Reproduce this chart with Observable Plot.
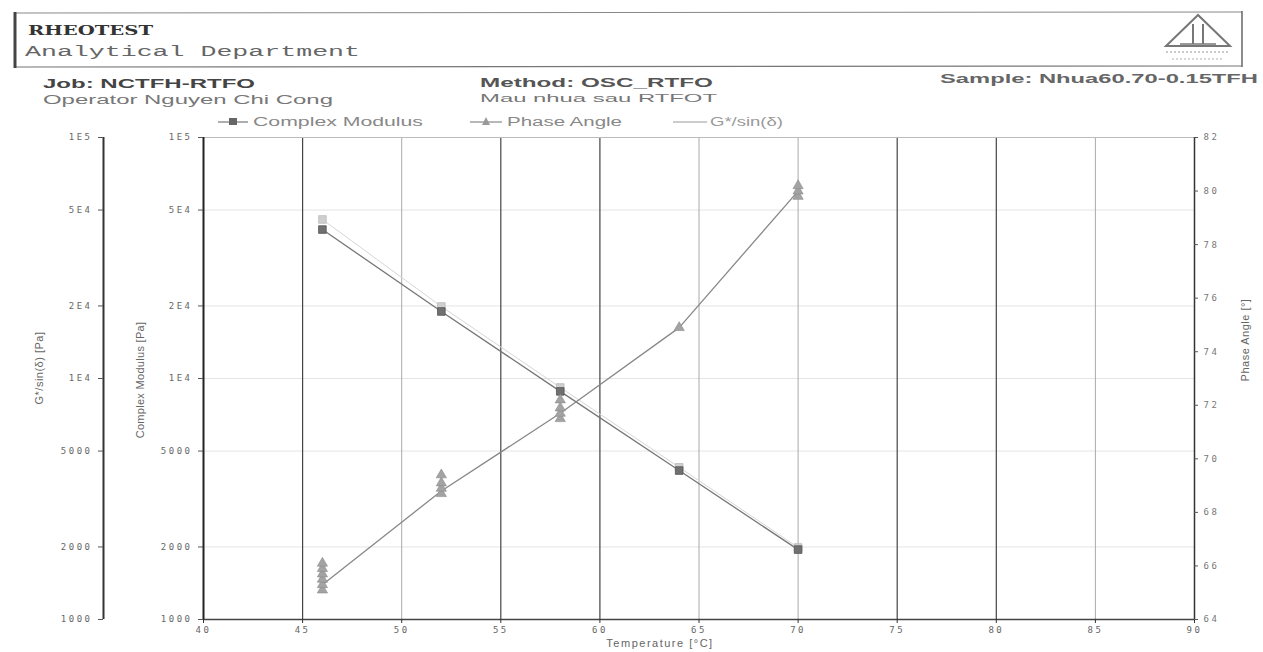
<!DOCTYPE html>
<html><head><meta charset="utf-8">
<script src="https://cdn.jsdelivr.net/npm/d3@7"></script>
<script src="https://cdn.jsdelivr.net/npm/@observablehq/plot@0.6"></script>
<style>
html,body{margin:0;padding:0;background:#fff;overflow:hidden;width:1263px;height:652px;}
#wrap{position:relative;width:1263px;height:652px;font-family:"Liberation Sans",Arial,sans-serif;}
#wrap svg{display:block;}
.ttl{position:absolute;white-space:nowrap;color:#666;font-size:11px;transform:translate(-50%,-50%);line-height:1;}
.rot{transform:translate(-50%,-50%) rotate(-90deg);}
.chart text{letter-spacing:2.5px;}
</style></head><body><div id="wrap"></div>
<script>
// ---- data ----
const temperatures = [46, 52, 58, 64, 70];
const complexModulus = [41500, 18970, 8840, 4150, 1950];
const gStarSinDelta = [45700, 19900, 9180, 4280, 1990];
const phaseAngle = [65.3, 68.8, 71.7, 74.9, 80.0];
const phaseReplicates = [
  [65.1, 65.3, 65.5, 65.7, 65.9, 66.1],
  [68.7, 68.9, 69.1, 69.4],
  [71.5, 71.7, 71.9, 72.2],
  [74.9],
  [79.8, 80.0, 80.2]
];
const xTicks = [40, 45, 50, 55, 60, 65, 70, 75, 80, 85, 90];
const modulusTicks = [1000, 2000, 5000, 10000, 20000, 50000, 100000];
const modulusTickLabels = ["1000", "2000", "5000", "1E4", "2E4", "5E4", "1E5"];
const phaseTicks = [64, 66, 68, 70, 72, 74, 76, 78, 80, 82];
const modulusDomain = [1000, 100000];
const phaseDomain = [64, 82];
const tempDomain = [40, 90];

// map phase angle (right axis, linear) onto the shared log y scale
const l0 = Math.log10(modulusDomain[0]), l1 = Math.log10(modulusDomain[1]);
const toMod = p => Math.pow(10, l0 + (p - phaseDomain[0]) / (phaseDomain[1] - phaseDomain[0]) * (l1 - l0));

const rows = temperatures.map((t, i) => ({t, cm: complexModulus[i], gs: gStarSinDelta[i], pa: toMod(phaseAngle[i])}));
const reps = temperatures.flatMap((t, i) => phaseReplicates[i].map(p => ({t, pa: toMod(p)})));
const phaseTickRows = phaseTicks.map(p => ({y: toMod(p), label: String(p)}));
const modLabel = d => modulusTickLabels[modulusTicks.indexOf(d)];

const wrap = document.getElementById("wrap");

// ---- header (title block + legend) ----
const NS = "http://www.w3.org/2000/svg";
const head = document.createElementNS(NS, "svg");
head.setAttribute("width", 1263); head.setAttribute("height", 110);
const LA = 'lengthAdjust="spacingAndGlyphs"';
head.innerHTML = `
 <line x1="15" y1="13" x2="1242" y2="12" stroke="#888" stroke-width="1"/>
 <line x1="15" y1="67" x2="1242" y2="66" stroke="#777" stroke-width="1.2"/>
 <line x1="15" y1="12" x2="15" y2="68" stroke="#444" stroke-width="3"/>
 <line x1="1242" y1="11" x2="1242" y2="67" stroke="#666" stroke-width="1.5"/>
 <text x="28" y="35" font-family="DejaVu Serif" font-weight="bold" font-size="12" fill="#333" textLength="125" ${LA}>RHEOTEST</text>
 <text x="25" y="56" font-family="Liberation Mono" font-size="14" fill="#666" textLength="335" ${LA}>Analytical  Department</text>
 <polygon points="1198,15 1166,46 1230,46" fill="none" stroke="#777" stroke-width="2"/>
 <line x1="1193" y1="24" x2="1193" y2="44" stroke="#777" stroke-width="2"/>
 <line x1="1203" y1="24" x2="1203" y2="44" stroke="#777" stroke-width="2"/>
 <line x1="1180" y1="44" x2="1216" y2="44" stroke="#777" stroke-width="1.5"/>
 <line x1="1166" y1="52" x2="1228" y2="52" stroke="#bbb" stroke-width="1.5" stroke-dasharray="2,2"/>
 <line x1="1172" y1="59" x2="1222" y2="59" stroke="#ccc" stroke-width="1.5" stroke-dasharray="2,2"/>
 <text x="43" y="88" font-weight="bold" font-size="13" fill="#444" textLength="212" ${LA}>Job: NCTFH-RTFO</text>
 <text x="43" y="104" font-size="12" fill="#777" textLength="290" ${LA}>Operator  Nguyen Chi Cong</text>
 <text x="480" y="87" font-weight="bold" font-size="12.5" fill="#555" textLength="233" ${LA}>Method: OSC_RTFO</text>
 <text x="480" y="102" font-size="11.5" fill="#777" textLength="237" ${LA}>Mau nhua sau RTFOT</text>
 <text x="940" y="83" font-weight="bold" font-size="13" fill="#666" textLength="318" ${LA}>Sample: Nhua60.70-0.15TFH</text>
 <line x1="218" y1="122" x2="248" y2="122" stroke="#777" stroke-width="1.2"/>
 <rect x="229" y="118" width="8" height="7" fill="#666"/>
 <text x="253" y="126" font-size="12" fill="#888" textLength="170" ${LA}>Complex Modulus</text>
 <line x1="470" y1="122" x2="502" y2="122" stroke="#888" stroke-width="1.2"/>
 <polygon points="486,117 482,125 490,125" fill="#999"/>
 <text x="507" y="126" font-size="12" fill="#888" textLength="115" ${LA}>Phase Angle</text>
 <line x1="673" y1="122" x2="707" y2="122" stroke="#bbb" stroke-width="1.5"/>
 <text x="710" y="126" font-size="12" fill="#999" textLength="73" ${LA}>G*/sin(δ)</text>
`;
head.style.position = "absolute"; head.style.left = "0"; head.style.top = "0";
head.style.overflow = "visible";
wrap.appendChild(head);

// ---- chart ----
const chart = Plot.plot({
  width: 1263, height: 542,
  marginLeft: 203, marginRight: 69, marginTop: 27, marginBottom: 33,
  className: "chart",
  style: {fontFamily: "DejaVu Sans Mono", fontSize: "9px", color: "#666", background: "transparent", overflow: "visible"},
  x: {domain: tempDomain},
  y: {type: "log", domain: modulusDomain},
  marks: [
    Plot.ruleY(modulusTicks.slice(1, -1), {stroke: "#e4e4e4", strokeWidth: 1}),
    Plot.ruleX([50, 65, 70, 85], {stroke: "#aaa", strokeWidth: 1}),
    Plot.ruleX([45, 55, 60, 75, 80], {stroke: "#444", strokeWidth: 1.2}),
    Plot.ruleY([modulusDomain[1]], {stroke: "#bbb", strokeWidth: 1}),
    Plot.ruleY([modulusDomain[0]], {stroke: "#444", strokeWidth: 1.5}),
    Plot.ruleX([tempDomain[0]], {stroke: "#222", strokeWidth: 2}),
    Plot.ruleX([tempDomain[0]], {dx: -100, stroke: "#333", strokeWidth: 2}),
    Plot.ruleX([tempDomain[1]], {stroke: "#333", strokeWidth: 1.5}),
    Plot.axisX({ticks: xTicks, tickSize: 4, tickPadding: 3, stroke: "#333", fill: "#666", label: null}),
    Plot.axisY({anchor: "left", ticks: modulusTicks, tickFormat: modLabel, tickSize: 5, tickPadding: 6, stroke: "#555", fill: "#666", label: null}),
    Plot.axisY({anchor: "left", ticks: modulusTicks, tickFormat: modLabel, tickSize: 5, tickPadding: 6, dx: -100, stroke: "#555", fill: "#666", label: null}),
    // right (phase angle) axis: short ticks + labels mapped onto the shared y scale
    Plot.ruleY(phaseTickRows, {y: "y", x1: tempDomain[1], x2: tempDomain[1], insetRight: -4, stroke: "#555", strokeWidth: 1}),
    Plot.text(phaseTickRows, {y: "y", x: tempDomain[1], text: "label", textAnchor: "start", dx: 9, fill: "#777"}),
    Plot.line(rows, {x: "t", y: "gs", stroke: "#d6d6d6", strokeWidth: 1}),
    Plot.line(rows, {x: "t", y: "cm", stroke: "#777", strokeWidth: 1.3}),
    Plot.line(rows, {x: "t", y: "pa", stroke: "#888", strokeWidth: 1.3}),
    Plot.dot(rows, {x: "t", y: "gs", symbol: "square", r: 4.3, fill: "#cfcfcf", stroke: "#bbb", strokeWidth: 0.8}),
    Plot.dot(rows, {x: "t", y: "cm", symbol: "square", r: 4.3, fill: "#707070", stroke: "#555", strokeWidth: 0.8}),
    Plot.dot(reps, {x: "t", y: "pa", symbol: "triangle", r: 3.8, fill: "#a3a3a3", stroke: "#8a8a8a", strokeWidth: 0.6})
  ]
});
chart.style.position = "absolute"; chart.style.left = "0"; chart.style.top = "110px";
wrap.appendChild(chart);

// ---- axis titles ----
function title(txt, x, y, rot, extra) {
  const s = document.createElement("span");
  s.className = "ttl" + (rot ? " rot" : "");
  s.textContent = txt;
  s.style.left = x + "px"; s.style.top = y + "px";
  Object.assign(s.style, extra || {});
  wrap.appendChild(s);
}
title("G*/sin(δ) [Pa]", 39, 368, true, {letterSpacing: "0.5px"});
title("Complex Modulus [Pa]", 140, 380, true, {letterSpacing: "0.3px"});
title("Phase Angle [°]", 1245, 340, true, {letterSpacing: "0.5px"});
title("Temperature [°C]", 660, 643, false, {letterSpacing: "1.5px"});
</script></body></html>
